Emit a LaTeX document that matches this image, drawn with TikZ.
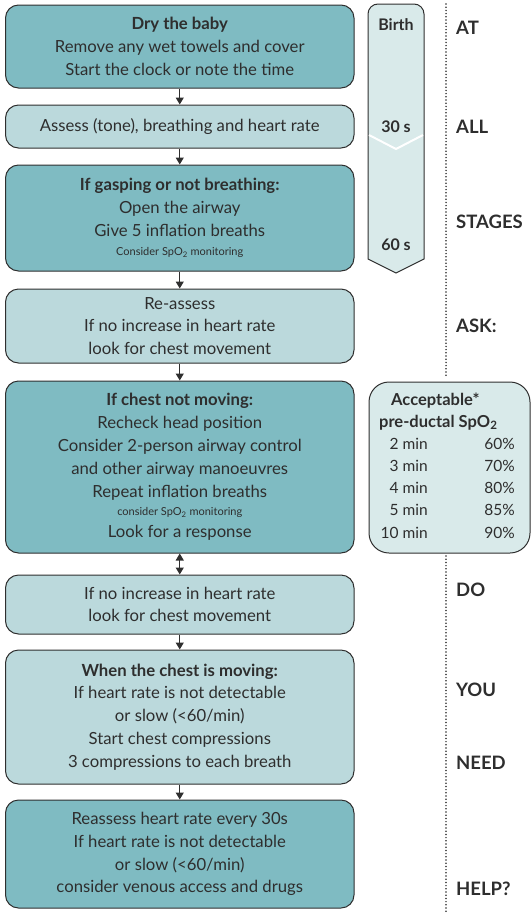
\documentclass[tikz,border=0pt]{standalone}
\usepackage{fontspec}
\setmainfont{Lato}
\usetikzlibrary{arrows.meta}
\definecolor{darkfill}{HTML}{7FBBC2}
\definecolor{lightfill}{HTML}{BBD9DC}
\definecolor{palefill}{HTML}{D9EAEA}
\definecolor{edge}{HTML}{2F2F2F}
\definecolor{txt}{HTML}{2E2E2E}
\begin{document}
\begin{tikzpicture}[x=1pt,y=-1pt,
  box/.style={draw=edge, line width=1pt, rounded corners=13pt, align=center, text=txt,
    font=\fontsize{16.7}{22.8}\selectfont, inner sep=0pt, minimum width=348.5pt},
  darkbox/.style={box, fill=darkfill},
  lightbox/.style={box, fill=lightfill},
  arr/.style={draw=edge, line width=1.1pt, -{Triangle[length=7pt,width=8pt]}},
  darr/.style={draw=edge, line width=1.1pt, {Triangle[length=7pt,width=8pt]}-{Triangle[length=7pt,width=8pt]}},
  sidelabel/.style={anchor=west, text=txt, font=\fontsize{18.5}{20}\selectfont\bfseries, inner sep=0pt},
  tltext/.style={text=txt, font=\fontsize{16}{18}\selectfont\bfseries, inner sep=0pt},
  headtext/.style={anchor=base west, text=txt, font=\fontsize{16.5}{18}\selectfont\bfseries, inner sep=0pt},
  tabtext/.style={text=txt, font=\fontsize{15.5}{17}\selectfont, inner sep=0pt, anchor=base east},
  dots/.style={draw=edge, line width=1.7pt, dash pattern=on 0pt off 3.2pt, line cap=round}
]
\useasboundingbox (0,0) rectangle (532,913);
\newcommand{\sm}[1]{{\fontsize{11}{13}\selectfont #1}}

% main column boxes
\node[darkbox, minimum height=83pt] (b1) at (179.75,46.5)
  {\textbf{Dry the baby}\\Remove any wet towels and cover\\Start the clock or note the time};
\node[lightbox, minimum height=43pt] (b2) at (179.75,126.5)
  {Assess (tone), breathing and heart rate};
\node[darkbox, minimum height=106pt] (b3) at (179.75,218)
  {\textbf{If gasping or not breathing:}\\Open the airway\\Give 5 inflation breaths\\[-3pt]\sm{Consider SpO\textsubscript{2} monitoring}};
\node[lightbox, minimum height=74pt] (b4) at (179.75,326)
  {Re-assess\\If no increase in heart rate\\look for chest movement};
\node[darkbox, minimum height=172pt] (b5) at (179.75,467)
  {\textbf{If chest not moving:}\\Recheck head position\\Consider 2-person airway control\\and other airway manoeuvres\\Repeat inflation breaths\\[-4pt]\sm{consider SpO\textsubscript{2} monitoring}\\[-1pt]Look for a response};
\node[lightbox, minimum height=59pt] (b6) at (179.75,604.5)
  {If no increase in heart rate\\look for chest movement};
\node[lightbox, minimum height=134pt] (b7) at (179.75,717)
  {\textbf{When the chest is moving:}\\If heart rate is not detectable\\or slow (<60/min)\\Start chest compressions\\3 compressions to each breath};
\node[darkbox, minimum height=108pt] (b8) at (179.75,854)
  {Reassess heart rate every 30s\\If heart rate is not detectable\\or slow (<60/min)\\consider venous access and drugs};

\draw[arr] (b1) -- (b2);
\draw[arr] (b2) -- (b3);
\draw[arr] (b3) -- (b4);
\draw[arr] (b4) -- (b5);
\draw[darr] (b5) -- (b6);
\draw[arr] (b6) -- (b7);
\draw[arr] (b7) -- (b8);

% timeline arrow
\draw[draw=edge, line width=1pt, fill=palefill]
  (396,273) -- (368,259) -- (368,14) arc[start angle=180, end angle=90, radius=10pt]
  -- (414,4) arc[start angle=90, end angle=0, radius=10pt] -- (424,259) -- cycle;
\draw[white, line width=2pt] (369,135) -- (396,149) -- (423,135);
\node[tltext] (tbirth) at (396,25) {Birth};
\node[tltext] (t30) at (396,127) {30 s};
\node[tltext] (t60) at (396,245) {60 s};

% SpO2 box
\node[draw=edge, line width=1pt, fill=palefill, rounded corners=20pt, minimum width=161pt, minimum height=171pt, inner sep=0pt] (spo) at (449.5,467.5) {};
\node[headtext] (h1) at (391,405) {Acceptable*};
\node[headtext] (h2) at (379,427) {pre-ductal SpO\textsubscript{2}};
\node[tabtext] (m2) at (428,449) {2 min};
\node[tabtext] (m3) at (428,471) {3 min};
\node[tabtext] (m4) at (428,493) {4 min};
\node[tabtext] (m5) at (428,515) {5 min};
\node[tabtext] (m10) at (428,538) {10 min};
\node[tabtext] (p2) at (515,449) {60\%};
\node[tabtext] (p3) at (515,471) {70\%};
\node[tabtext] (p4) at (515,493) {80\%};
\node[tabtext] (p5) at (515,515) {85\%};
\node[tabtext] (p10) at (515,538) {90\%};

% dotted divider
\coordinate (d1) at (446,4);
\coordinate (d2) at (446,377);
\coordinate (d3) at (446,556);
\coordinate (d4) at (446,912);
\draw[dots] (d1) -- (d2);
\draw[dots] (d3) -- (d4);

% side labels
\node[sidelabel] (lat) at (456,28) {AT};
\node[sidelabel] (lall) at (456,127) {ALL};
\node[sidelabel] (lstages) at (456,222) {STAGES};
\node[sidelabel] (lask) at (456,326) {ASK:};
\node[sidelabel] (ldo) at (456,590) {DO};
\node[sidelabel] (lyou) at (456,690) {YOU};
\node[sidelabel] (lneed) at (456,763) {NEED};
\node[sidelabel] (lhelp) at (456,889) {HELP?};
\end{tikzpicture}
\end{document}
